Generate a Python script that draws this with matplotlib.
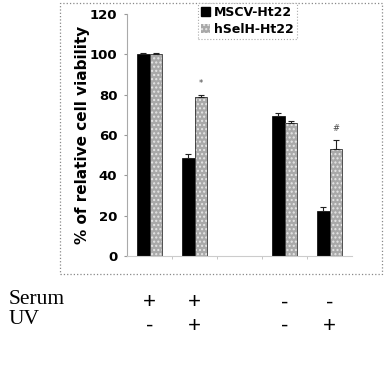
import matplotlib
matplotlib.use("Agg")
import matplotlib.pyplot as plt
import matplotlib.transforms as mtransforms
from matplotlib.patches import Rectangle, Patch
import numpy as np

# data
slots = [0, 1, 3, 4]           # slot 2 is left empty in the original
mscv = [100, 48.5, 69.5, 22.4]
mscv_err = [0.5, 1.9, 1.2, 1.7]
hselh = [100, 78.8, 66.0, 52.9]
hselh_err = [0.5, 1.0, 1.0, 4.4]
serum = ["+", "+", "-", "-"]
uv = ["-", "+", "-", "+"]
marks = ["", "*", "", "#"]

plt.rcParams["hatch.linewidth"] = 1.0

fig = plt.figure(figsize=(3.92, 3.82), dpi=100)
ax = fig.add_axes([0.324, 0.330, 0.574, 0.633])

x = np.array(slots)
w = 0.28
ax.bar(x - w / 2, mscv, w, color="black", edgecolor="black", linewidth=0.5,
       yerr=[np.zeros(4), mscv_err], capsize=2.5,
       error_kw=dict(elinewidth=0.8, capthick=0.8, ecolor="#222222"),
       label="MSCV-Ht22")
ax.bar(x + w / 2, hselh, w, color="#a9a9a9", edgecolor="#e6e6e6", linewidth=0,
       hatch="....",
       yerr=[np.zeros(4), hselh_err], capsize=2.5,
       error_kw=dict(elinewidth=0.8, capthick=0.8, ecolor="#222222"),
       label="hSelH-Ht22")
# thin dark outline on the grey bars
ax.bar(x + w / 2, hselh, w, fill=False, edgecolor="#333333", linewidth=0.6)

for xi, h, e, m in zip(x, hselh, hselh_err, marks):
    if m:
        ax.text(xi + w / 2, h + e + 6, m, ha="center", va="center",
                fontsize=6, color="#444444")

ax.set_xlim(-0.5, 4.5)
ax.set_ylim(0, 120)
ax.set_yticks(range(0, 121, 20))
ax.set_xticks([0.5, 1.5, 2.5, 3.5])
ax.set_xticklabels([])
ax.tick_params(axis="y", colors="#999999", length=2.5, width=0.8, pad=4.5,
               labelcolor="black", labelsize=9.5)
ax.tick_params(axis="x", colors="#bbbbbb", length=2, width=0.6)
for t in ax.get_yticklabels():
    t.set_fontweight("bold")
for s in ["top", "right"]:
    ax.spines[s].set_visible(False)
ax.spines["left"].set_color("#aaaaaa")
ax.spines["bottom"].set_color("#cccccc")
ax.set_ylabel("% of relative cell viability", fontsize=11, fontweight="bold")
ax.yaxis.set_label_coords(-0.165, 0.5)

handles = [Patch(facecolor="black", edgecolor="black"),
           Patch(facecolor="#a9a9a9", edgecolor="#e6e6e6", hatch="....", linewidth=0)]
leg = fig.legend(handles, ["MSCV-Ht22", "hSelH-Ht22"], loc="upper left",
                 bbox_to_anchor=(198 / 392, 1 - 3 / 382), borderaxespad=0,
                 prop=dict(weight="bold", size=9), handlelength=0.75,
                 handleheight=0.75, handletextpad=0.3, borderpad=0.25,
                 labelspacing=0.3, fancybox=False, framealpha=1)
leg.get_frame().set_edgecolor("#aaaaaa")
leg.get_frame().set_linestyle(":")
leg.get_frame().set_linewidth(0.8)

# dotted frame round the plot area
fig.patches.append(Rectangle((60 / 392, 108 / 382), 322 / 392, 271 / 382,
                             transform=fig.transFigure, fill=False,
                             edgecolor="#888888", linestyle=":", linewidth=0.9))

# treatment table below
fig.text(9 / 392, 1 - 299 / 382, "Serum", fontsize=15.5,
         family="Liberation Serif", va="center", ha="left")
fig.text(9 / 392, 1 - 320 / 382, "UV", fontsize=15.5,
         family="Liberation Serif", va="center", ha="left")
trans = mtransforms.blended_transform_factory(ax.transData, fig.transFigure)
for xi, s, u in zip(x, serum, uv):
    ax.text(xi, 1 - 303 / 382, s, transform=trans, ha="center", va="center",
            fontsize=16, family="Liberation Sans")
    ax.text(xi, 1 - 326 / 382, u, transform=trans, ha="center", va="center",
            fontsize=16, family="Liberation Sans")

fig.savefig("out.png", dpi=100)
